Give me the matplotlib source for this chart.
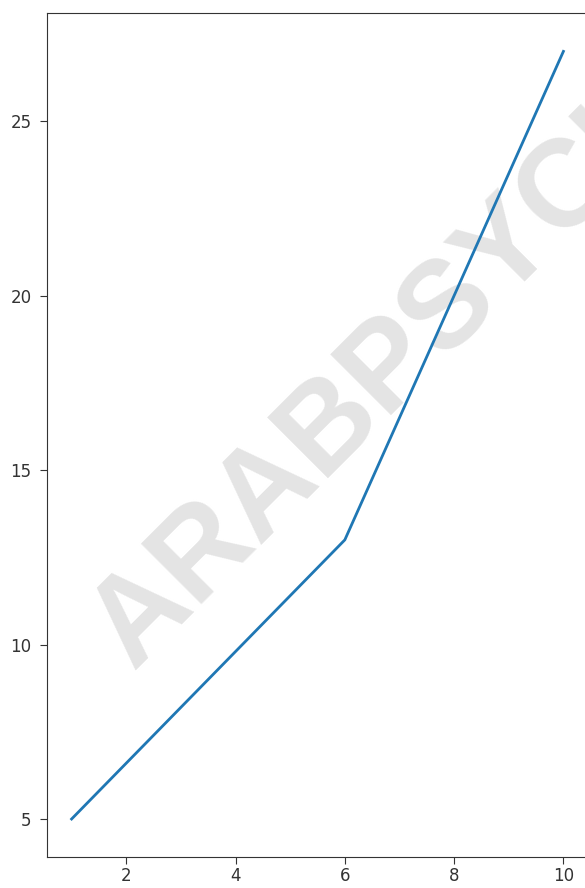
import matplotlib.pyplot as plt

# line data
x_vals = [1, 6, 8, 10]
y_vals = [5, 13, 20, 27]
x_ticks = [2, 4, 6, 8, 10]
y_ticks = [5, 10, 15, 20, 25]
watermark = "ARABPSYCHOLOGY"

fig = plt.figure(figsize=(5.85, 8.88), dpi=100)
# right spine sits just past the cropped edge in the reference
ax = fig.add_axes([47 / 585, 30.6 / 888, 541 / 585, 844.4 / 888])

ax.plot(x_vals, y_vals, color="#1f77b4", linewidth=2, zorder=3)
ax.set_xticks(x_ticks)
ax.set_yticks(y_ticks)
ax.tick_params(labelsize=12, colors="#333333", length=5)
ax.tick_params(axis="y", pad=6)
ax.tick_params(axis="x", pad=2)
for s in ax.spines.values():
    s.set_color("#333333")

ax.text(0.16, 0.222, watermark, transform=ax.transAxes,
        rotation=45, rotation_mode="anchor", ha="left", va="baseline",
        fontsize=89, fontweight="bold", family="Liberation Sans",
        color="#e4e4e4", zorder=1, clip_on=False)

fig.savefig("out.png", dpi=100)
